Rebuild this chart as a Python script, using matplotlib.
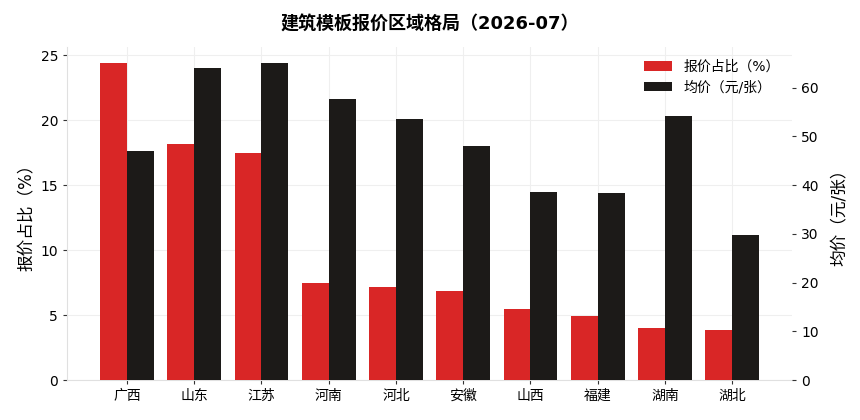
import matplotlib
matplotlib.use("Agg")
import matplotlib.pyplot as plt
import numpy as np

plt.rcParams['font.family'] = ['DejaVu Sans', 'Noto Sans CJK SC']

regions = ['广西', '山东', '江苏', '河南', '河北', '安徽', '山西', '福建', '湖南', '湖北']
share_pct = [24.4, 18.2, 17.5, 7.5, 7.2, 6.85, 5.5, 4.9, 4.0, 3.85]
avg_price = [47.1, 64.0, 65.1, 57.6, 53.5, 48.1, 38.7, 38.3, 54.3, 29.8]

red = '#d92626'
black = '#1c1a18'

fig = plt.figure(figsize=(8.6, 4.2), dpi=100)
ax = fig.add_axes([0.078, 0.095, 0.843, 0.793])
ax2 = ax.twinx()

x = np.arange(len(regions))
w = 0.4
ax.bar(x - w / 2, share_pct, width=w, color=red, label='报价占比（%）', zorder=3)
ax2.bar(x + w / 2, avg_price, width=w, color=black, label='均价（元/张）', zorder=3)

ax.set_ylim(0, max(share_pct) * 1.05)
ax2.set_ylim(0, max(avg_price) * 1.05)
ax.set_xticks(x)
ax.set_xticklabels(regions, fontsize=10)
ax.set_yticks([0, 5, 10, 15, 20, 25])
ax2.set_yticks([0, 10, 20, 30, 40, 50, 60])

ax.set_ylabel('报价占比（%）', fontsize=12)
ax2.set_ylabel('均价（元/张）', fontsize=12, labelpad=8)

ax.grid(True, color='#efefef', linewidth=0.8, zorder=0)
ax.set_axisbelow(True)

for s in ['top', 'right']:
    ax.spines[s].set_visible(False)
for s in ['top', 'right', 'left', 'bottom']:
    ax2.spines[s].set_visible(False)
ax.spines['left'].set_color('#e0e0e0')
ax.spines['bottom'].set_color('#e0e0e0')

ax.tick_params(axis='both', labelsize=10, length=3, color='#333333')
ax2.tick_params(axis='y', labelsize=10, length=3, color='#333333')

h1, l1 = ax.get_legend_handles_labels()
h2, l2 = ax2.get_legend_handles_labels()
ax2.legend(h1 + h2, l1 + l2, loc='upper right', frameon=False, fontsize=10,
           bbox_to_anchor=(1.0, 1.0))

fig.suptitle('建筑模板报价区域格局（2026-07）', fontsize=13, fontweight='bold', y=0.962)

fig.savefig('out.png', dpi=100)
